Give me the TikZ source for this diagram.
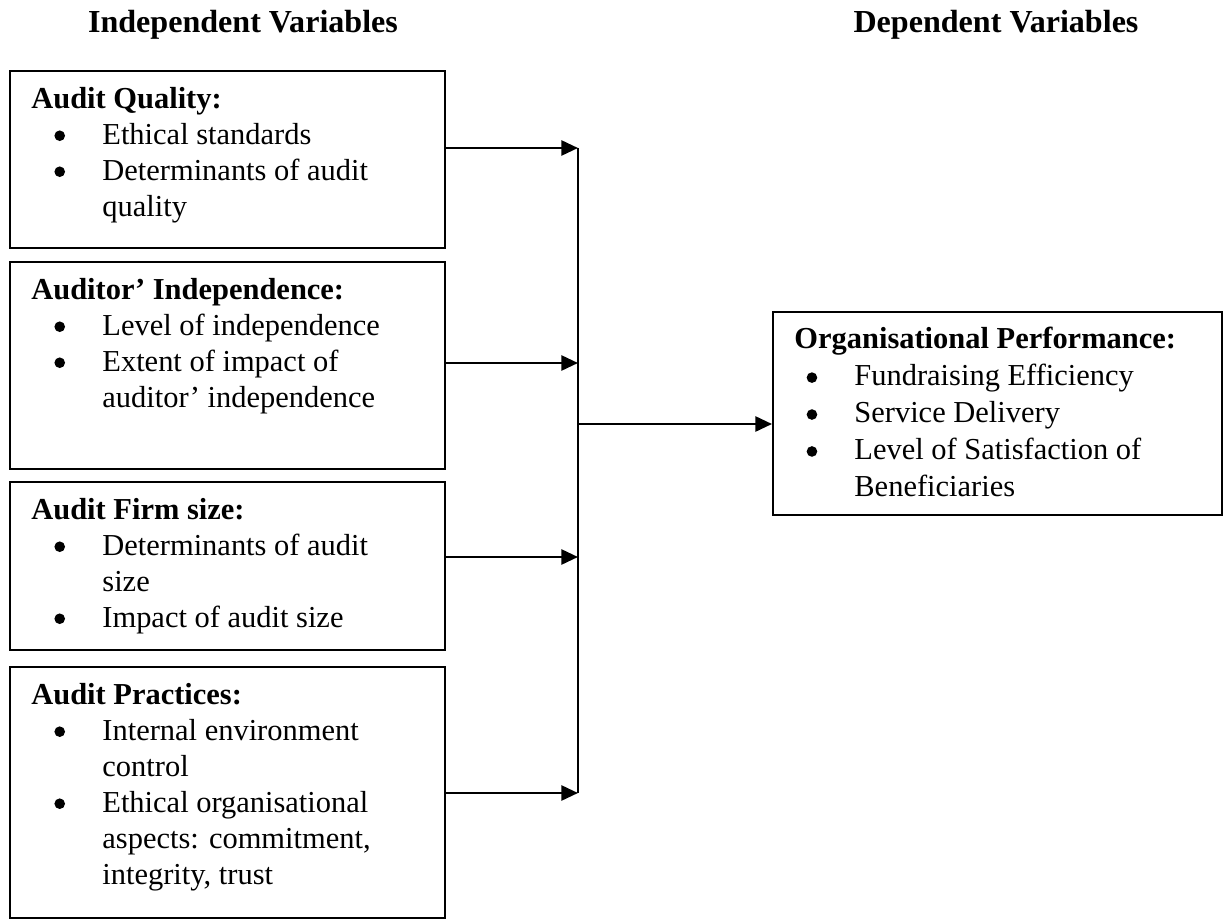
\documentclass[tikz,border=0pt]{standalone}
\usepackage{fontspec}
\setmainfont{Liberation Serif}
\usetikzlibrary{positioning, arrows.meta}

\newlength{\bulpos}
\newlength{\bulind}
\newcommand{\blt}{\tikz[baseline=-3.6pt]\fill (0,0) circle (2.3pt);}
\newcommand{\bitem}[1]{\makebox[\bulind][l]{\hspace*{\bulpos}\blt}#1}
\newcommand{\bcont}[1]{\hspace*{\bulind}#1}

\begin{document}
\begin{tikzpicture}[x=0.4333pt,y=-0.4333pt]
	\tikzstyle{box}=[draw=black, line width=0.9pt, rectangle, inner sep=0pt, minimum width=188.5pt]
	\tikzstyle{leftlist}=[inner sep=0pt, anchor=base west, font=\fontsize{13.2}{15.6}\selectfont,
		execute at begin node={\setlength{\bulpos}{10pt}\setlength{\bulind}{30.8pt}}]
	\tikzstyle{rightlist}=[inner sep=0pt, anchor=base west, font=\fontsize{13.2}{16}\selectfont,
		execute at begin node={\setlength{\bulpos}{5.3pt}\setlength{\bulind}{26pt}}]
	\tikzstyle{heading}=[inner sep=0pt, anchor=base, font=\fontsize{13.9}{16}\selectfont\bfseries]
	\tikzstyle{arr}=[line width=1.1pt, -{Triangle[length=7.2pt,width=6.5pt]}]
	\tikzstyle{bus}=[line width=1.1pt]
	\useasboundingbox (0,0) rectangle (1224,921);

	% column headings
	\node[heading](indhead) at (243,33) {Independent Variables};
	\node[heading](dephead) at (996,33) {Dependent Variables};

	% boxes
	\node[box, minimum height=76.7pt](qual) at (227.5,159.5) {};
	\node[box, minimum height=89.7pt](indep) at (227.5,365.5) {};
	\node[box, minimum height=72.8pt](fsize) at (227.5,566) {};
	\node[box, minimum height=108.8pt](prac) at (227.5,792.5) {};
	\node[box, minimum width=194.5pt, minimum height=88pt](perf) at (997.5,413.5) {};

	% box texts
	\node[leftlist](qualtxt) at ([xshift=9.5pt,yshift=-16.5pt]qual.north west) {%
		\begin{tabular}[t]{@{}l@{}}
			\textbf{Audit Quality:}\\
			\bitem{Ethical standards}\\
			\bitem{Determinants of audit}\\
			\bcont{quality}
		\end{tabular}};
	\node[leftlist](indeptxt) at ([xshift=9.5pt,yshift=-16.5pt]indep.north west) {%
		\begin{tabular}[t]{@{}l@{}}
			\textbf{Auditor’ Independence:}\\
			\bitem{Level of independence}\\
			\bitem{Extent of impact of}\\
			\bcont{auditor’ independence}
		\end{tabular}};
	\node[leftlist](fsizetxt) at ([xshift=9.5pt,yshift=-16.5pt]fsize.north west) {%
		\begin{tabular}[t]{@{}l@{}}
			\textbf{Audit Firm size:}\\
			\bitem{Determinants of audit}\\
			\bcont{size}\\
			\bitem{Impact of audit size}
		\end{tabular}};
	\node[leftlist](practxt) at ([xshift=9.5pt,yshift=-16.5pt]prac.north west) {%
		\begin{tabular}[t]{@{}l@{}}
			\textbf{Audit Practices:}\\
			\bitem{Internal environment}\\
			\bcont{control}\\
			\bitem{Ethical organisational}\\
			\bcont{aspects: commitment,}\\
			\bcont{integrity, trust}
		\end{tabular}};
	\node[rightlist](perftxt) at ([xshift=9.5pt,yshift=-16.5pt]perf.north west) {%
		\begin{tabular}[t]{@{}l@{}}
			\textbf{Organisational Performance:}\\
			\bitem{Fundraising Efficiency}\\
			\bitem{Service Delivery}\\
			\bitem{Level of Satisfaction of}\\
			\bcont{Beneficiaries}
		\end{tabular}};

	% connectors
	\coordinate (b1) at (578,148);
	\coordinate (b2) at (578,363);
	\coordinate (b3) at (578,557);
	\coordinate (b4) at (578,793);
	\coordinate (bm) at (578,424);
	\draw[bus](b1) -- (b4);
	\draw[arr](qual.east |- b1) -- (b1);
	\draw[arr](indep.east |- b2) -- (b2);
	\draw[arr](fsize.east |- b3) -- (b3);
	\draw[arr](prac.east |- b4) -- (b4);
	\draw[arr](bm) -- (perf.west |- bm);
\end{tikzpicture}
\end{document}
